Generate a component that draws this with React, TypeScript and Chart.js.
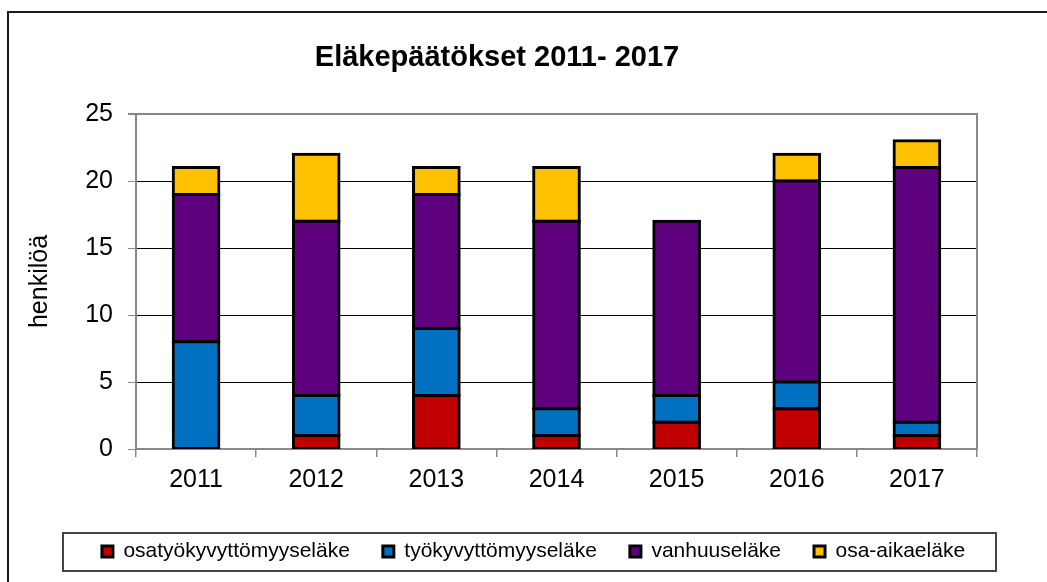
import React, { useEffect, useRef } from "react";
import { Chart, registerables } from "chart.js";

Chart.register(...registerables);

const TITLE = "Eläkepäätökset 2011- 2017";
const Y_TITLE = "henkilöä";
const years = ["2011", "2012", "2013", "2014", "2015", "2016", "2017"];
const seriesNames = ["osatyökyvyttömyyseläke", "työkyvyttömyyseläke", "vanhuuseläke", "osa-aikaeläke"];
const osatyokyvyttomyys = [0, 1, 4, 1, 2, 3, 1];
const tyokyvyttomyys = [8, 3, 5, 2, 2, 2, 1];
const vanhuus = [11, 13, 10, 14, 13, 15, 19];
const osaAika = [2, 5, 2, 4, 0, 2, 2];
const colors = ["#C00000", "#0070C0", "#5F007F", "#FFC000"];
const yMax = 25;
const yStep = 5;

const FONT = "'Liberation Sans', Arial, sans-serif";

const decorPlugin = {
  id: "decor",
  afterDraw(chart: any) {
    const ctx = chart.ctx;
    ctx.save();
    // outer frame
    ctx.strokeStyle = "#1a1a1a";
    ctx.lineWidth = 2;
    ctx.strokeRect(8, 12, 1200, 1000);
    // legend frame
    ctx.strokeStyle = "#444";
    ctx.lineWidth = 2;
    ctx.strokeRect(63, 533, 996 - 63, 571 - 533);
    // title
    ctx.fillStyle = "#000";
    ctx.font = `bold 29px ${FONT}`;
    ctx.textAlign = "center";
    ctx.textBaseline = "alphabetic";
    ctx.fillText(TITLE, 497, 66);
    ctx.restore();
  },
};

export default function App() {
  const ref = useRef<HTMLCanvasElement | null>(null);

  useEffect(() => {
    if (!ref.current) return;
    const values = [osatyokyvyttomyys, tyokyvyttomyys, vanhuus, osaAika];
    const chart = new Chart(ref.current, {
      type: "bar",
      data: {
        labels: years,
        datasets: values.map((d, i) => ({
          label: seriesNames[i],
          data: d,
          backgroundColor: colors[i],
          borderColor: "#000",
          borderWidth: 3,
          inflateAmount: 1.5,
          borderSkipped: false,
          barPercentage: 0.38,
          categoryPercentage: 1,
          yAxisID: "y",
        })),
      },
      options: {
        responsive: false,
        animation: false,
        devicePixelRatio: 1,
        layout: { padding: { top: 114, left: 20, right: 0, bottom: 10 } },
        plugins: {
          title: { display: false },
          tooltip: { enabled: false },
          legend: {
            display: true,
            position: "bottom",
            labels: {
              boxWidth: 11,
              boxHeight: 11,
              padding: 33,
              color: "#000",
              font: { size: 21, family: FONT },
            },
          },
        },
        scales: {
          x: {
            stacked: true,
            grid: {
              offset: true,
              drawOnChartArea: false,
              drawTicks: true,
              tickLength: 8,
              tickColor: "#888",
              lineWidth: 1.5,
            },
            border: { display: true, color: "#888", width: 2 },
            ticks: { color: "#000", padding: 8, font: { size: 25, family: FONT } },
            afterFit: (s: any) => {
              s.height = 59;
            },
          },
          y: {
            stacked: true,
            min: 0,
            max: yMax,
            ticks: { stepSize: yStep, color: "#000", padding: 15, font: { size: 25, family: FONT } },
            grid: {
              color: (c: any) => (c.tick && (c.tick.value === yMax || c.tick.value === 0) ? "#888" : "#000"),
              lineWidth: (c: any) => (c.tick && c.tick.value === yMax ? 2 : 1),
              tickColor: "#888",
              tickLength: 8,
            },
            border: { display: true, color: "#888", width: 2 },
            title: {
              display: true,
              text: Y_TITLE,
              color: "#000",
              font: { size: 25, family: FONT },
              padding: { top: 5, bottom: 0 },
            },
            afterFit: (s: any) => {
              s.width = 116;
            },
          },
          y2: {
            position: "right",
            display: true,
            min: 0,
            max: yMax,
            grid: { display: false },
            ticks: { display: false },
            border: { display: true, color: "#888", width: 2 },
            afterFit: (s: any) => {
              s.width = 70;
            },
          },
        },
      },
      plugins: [decorPlugin],
    });
    return () => chart.destroy();
  }, []);

  return (
    <div style={{ position: "fixed", left: 0, top: 0, width: 1047, height: 582, background: "#fff" }}>
      <canvas ref={ref} width={1047} height={582} style={{ width: 1047, height: 582, display: "block" }} />
    </div>
  );
}
